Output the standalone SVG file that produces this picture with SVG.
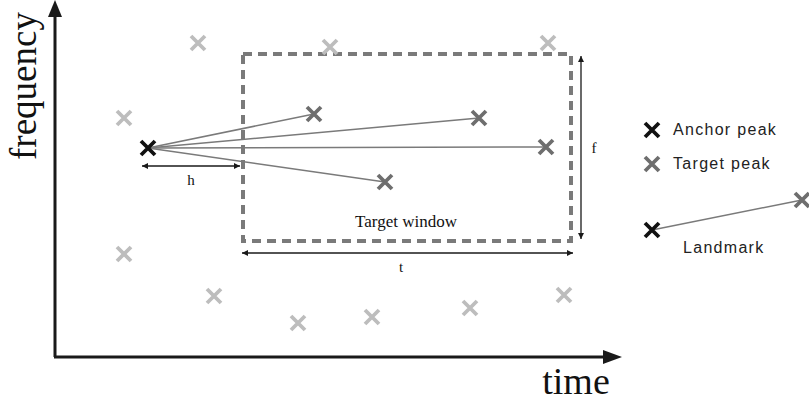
<svg xmlns="http://www.w3.org/2000/svg" width="809" height="404" viewBox="0 0 809 404">
  <style>
    .axis { stroke: #1a1a1a; stroke-width: 3; fill: none; }
    .dim { stroke: #1a1a1a; stroke-width: 1.3; fill: none; }
    .link { stroke: #7a7a7a; stroke-width: 1.5; fill: none; }
    .window { stroke: #7a7a7a; stroke-width: 4; fill: none; stroke-dasharray: 9 6; }
    .mark { stroke-width: 3.8; fill: none; }
    .anchor { stroke: #111; }
    .target { stroke: #6e6e6e; }
    .other { stroke: #bdbdbd; }
    .serif { font-family: "Liberation Serif", "Times New Roman", serif; fill: #111; stroke: none; }
    .sans { font-family: "Liberation Sans", Arial, sans-serif; fill: #222; stroke: none; font-size: 16px; letter-spacing: 1.3px; }
  </style>
  <defs>
    <path id="x" d="M-7,-7 L7,7 M7,-7 L-7,7"/>
    <marker id="ah" viewBox="0 0 10 10" refX="10" refY="5" markerWidth="8" markerHeight="6" markerUnits="userSpaceOnUse" orient="auto-start-reverse">
      <path d="M0,0 L10,5 L0,10 Z" fill="#1a1a1a" stroke="none"/>
    </marker>
  </defs>

  <!-- axes -->
  <g id="axes">
    <path class="axis" d="M55,357 L55,14 M54,357 L606,357"/>
    <path d="M55,0 L48,17 L62,17 Z" fill="#1a1a1a"/>
    <path d="M622,357 L603,350 L603,364 Z" fill="#1a1a1a"/>
    <text class="serif" font-size="37" transform="translate(36,86) rotate(-90)" text-anchor="middle">frequency</text>
    <text class="serif" font-size="38" x="576" y="394" text-anchor="middle">time</text>
  </g>

  <!-- target window -->
  <g id="target-window">
    <rect class="window" x="243" y="54" width="328" height="187"/>
    <text class="serif" font-size="17" x="406" y="227" text-anchor="middle">Target window</text>
  </g>

  <!-- anchor-to-target links and dimension arrows -->
  <g id="connectors">
    <path class="link" d="M148,148 L314,114"/>
    <path class="link" d="M148,148 L479,118"/>
    <path class="link" d="M148,148 L546,147"/>
    <path class="link" d="M148,148 L385,182"/>
    <path class="link" d="M652,230 L802,200"/>
    <path class="dim" d="M142,166 L240,166" marker-start="url(#ah)" marker-end="url(#ah)"/>
    <path class="dim" d="M581,56 L581,239" marker-start="url(#ah)" marker-end="url(#ah)"/>
    <path class="dim" d="M242,253 L573,253" marker-start="url(#ah)" marker-end="url(#ah)"/>
  </g>

  <!-- dimension labels -->
  <g id="labels">
    <text class="serif" font-size="15" x="191" y="185" text-anchor="middle">h</text>
    <text class="serif" font-size="15" x="594" y="153" text-anchor="middle">f</text>
    <text class="serif" font-size="15" x="401" y="272" text-anchor="middle">t</text>
  </g>

  <!-- peaks -->
  <g id="anchor-peak" class="mark anchor"><use href="#x" x="148" y="148"/></g>
  <g id="target-peaks" class="mark target">
    <use href="#x" x="314" y="114"/>
    <use href="#x" x="479" y="118"/>
    <use href="#x" x="546" y="147"/>
    <use href="#x" x="385" y="182"/>
  </g>
  <g id="other-peaks" class="mark other">
    <use href="#x" x="198" y="43"/>
    <use href="#x" x="330" y="47"/>
    <use href="#x" x="548" y="43"/>
    <use href="#x" x="124" y="118"/>
    <use href="#x" x="124" y="254"/>
    <use href="#x" x="214" y="296"/>
    <use href="#x" x="298" y="323"/>
    <use href="#x" x="372" y="317"/>
    <use href="#x" x="470" y="308"/>
    <use href="#x" x="564" y="295"/>
  </g>

  <!-- legend -->
  <g id="legend-anchor">
    <g class="mark anchor"><use href="#x" x="652" y="130"/></g>
    <text class="sans" x="673" y="135">Anchor peak</text>
  </g>
  <g id="legend-target">
    <g class="mark target"><use href="#x" x="652" y="164"/></g>
    <text class="sans" x="673" y="169">Target peak</text>
  </g>
  <g id="landmark">
    <g class="mark anchor"><use href="#x" x="652" y="230"/></g>
    <g class="mark target"><use href="#x" x="802" y="200"/></g>
    <text class="sans" x="683" y="253">Landmark</text>
  </g>
</svg>
